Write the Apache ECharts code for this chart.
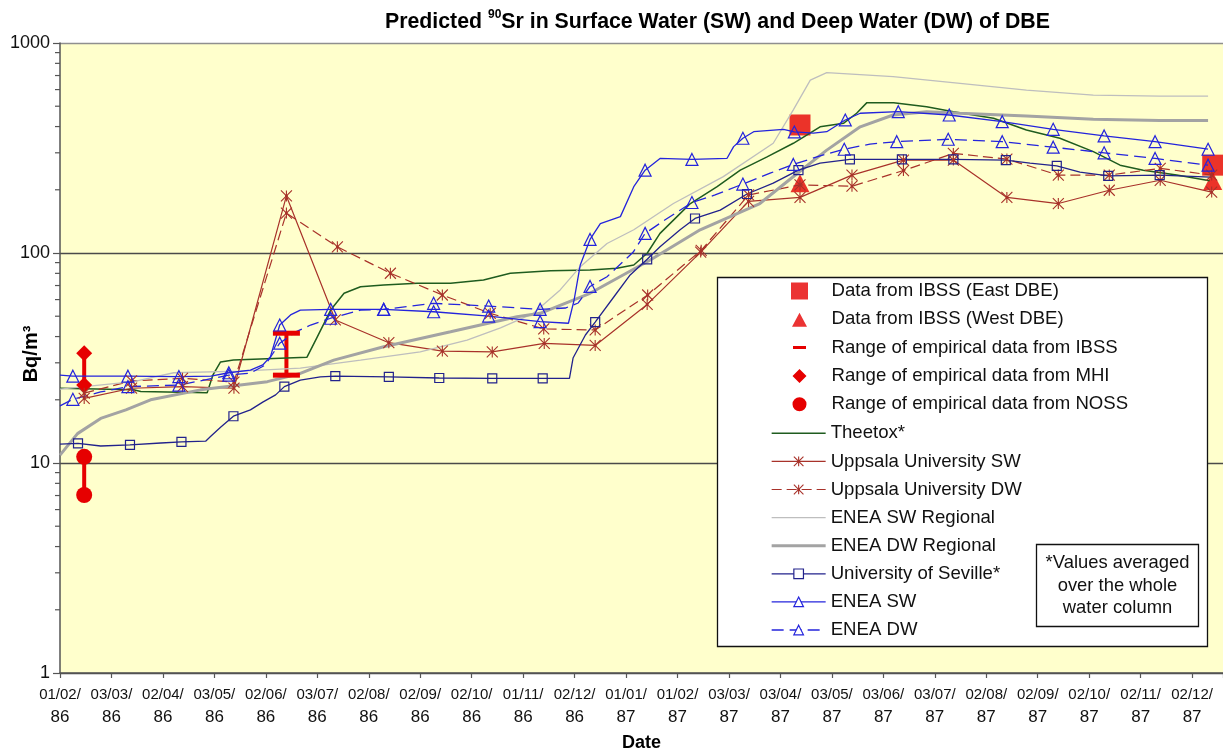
<!DOCTYPE html>
<html><head><meta charset="utf-8">
<script src="https://cdn.jsdelivr.net/npm/echarts/dist/echarts.min.js"></script>
<style>html,body{margin:0;padding:0;background:#fff}#c{width:1223px;height:753px}</style>
</head><body><div id="c"></div>
<script>
// x = months since 01/02/86 (axis ticks every 1/12 year), y = Bq/m3
const xTickLabels = ['01/02/86','03/03/86','02/04/86','03/05/86','02/06/86','03/07/86','02/08/86','02/09/86','02/10/86','01/11/86','02/12/86','01/01/87','01/02/87','03/03/87','03/04/87','03/05/87','03/06/87','03/07/87','02/08/87','02/09/87','02/10/87','02/11/87','02/12/87'];
const yTickLabels = {1:'1',10:'10',100:'100',1000:'1000'};
const yMinorTicks = [2,3,4,5,6,7,8,9,20,30,40,50,60,70,80,90,200,300,400,500,600,700,800,900];

const ibssEast = [[14.38,407],[22.4,262]];
const ibssWest = [[14.38,215],[22.4,220]];
const ibssRange = [[4.40,41.5],[4.40,26.2]];
const mhiRange = [[0.47,33.3],[0.47,23.5]];
const nossRange = [[0.47,10.7],[0.47,7.04]];

const theetox = [[0,22.7],[1.43,22.3],[1.57,21.9],[2.86,21.6],[2.97,26.2],[3.12,30.3],[3.37,30.9],[4.80,31.9],[5.00,39.9],[5.26,53.5],[5.52,64.3],[5.84,69.1],[6.29,70.4],[6.94,71.7],[7.59,71.7],[8.23,74.3],[8.75,80.1],[9.53,82.4],[10.30,83.0],[10.82,84.6],[11.15,87.7],[11.41,99.7],[11.66,124],[11.99,149],[12.25,172],[12.77,207],[13.22,248],[13.74,287],[14.25,333],[14.77,399],[15.23,415],[15.48,463],[15.68,520],[16.20,520],[16.84,497],[17.36,471],[18.14,438],[18.78,385],[19.43,352],[20.08,304],[20.60,262],[21.05,248],[21.70,235],[22.34,221]];

const uppsalaSW = [[0.47,20.3],[1.39,22.7],[2.38,23.1],[3.38,22.7],[4.40,187],[5.35,48.0],[6.39,37.4],[7.43,34.1],[8.40,33.8],[9.41,37.1],[10.40,36.3],[11.41,56.9],[12.45,101],[13.38,176],[14.38,184],[15.39,235],[16.39,277],[17.36,277],[18.40,184],[19.40,172],[20.39,199],[21.38,222],[22.38,195]];
const uppsalaDW = [[0.47,21.5],[1.39,24.6],[2.38,25.3],[3.38,24.3],[4.40,155],[5.39,107],[6.42,80.1],[7.43,63.1],[8.36,51.6],[9.40,43.5],[10.40,43.0],[11.42,63.1],[12.46,103],[13.38,189],[14.38,211],[15.39,208],[16.39,247],[17.36,298],[18.40,280],[19.40,235],[20.39,235],[21.38,253],[22.38,235]];

const eneaSWReg = [[0,22.5],[1.43,24.4],[2.21,26.9],[3.51,27.4],[4.67,28.3],[5.84,30.9],[7.00,33.8],[7.91,38.5],[8.56,44.0],[9.20,51.6],[9.72,66.7],[10.11,86.1],[10.63,111],[11.15,129],[11.92,172],[12.89,231],[13.86,333],[14.25,480],[14.58,666],[14.90,722],[16.19,691],[17.49,643],[18.78,597],[20.08,565],[21.37,559],[22.31,559]];
const eneaDWReg = [[0,10.9],[0.34,13.8],[0.79,16.3],[1.28,17.9],[1.76,20.0],[2.73,22.3],[4.03,24.4],[4.67,26.7],[5.32,30.9],[6.29,35.8],[7.59,42.2],[8.88,49.7],[9.33,51.6],[10.30,64.3],[11.47,92.6],[12.44,129],[13.60,172],[14.38,245],[14.90,309],[15.55,399],[16.19,454],[16.84,471],[17.49,463],[18.78,449],[20.08,433],[21.37,427],[22.31,427]];

// third value: 1 = marker drawn at this point
const seville = [[0,12.3,0],[0.35,12.4,1],[0.79,12.05,0],[1.36,12.2,1],[1.96,12.45,0],[2.36,12.6,1],[2.83,12.7,0],[2.93,13.4,0],[3.12,14.8,0],[3.37,16.7,1],[3.70,17.9,0],[3.94,19.5,0],[4.19,21.1,0],[4.36,23.1,1],[4.67,24.8,0],[5.06,25.7,0],[5.35,25.9,1],[6.39,25.7,1],[7.37,25.4,1],[8.40,25.3,1],[9.38,25.3,1],[9.90,25.3,0],[9.97,31.6,0],[10.21,40.7,0],[10.40,46.9,1],[10.79,63.1,0],[11.08,78.6,0],[11.41,93.3,1],[11.66,107,0],[12.05,129,0],[12.34,146,1],[12.83,160,0],[13.35,191,1],[13.86,215,0],[14.35,248,1],[14.77,268,0],[15.35,279,1],[16.36,279,1],[17.36,279,1],[18.38,277,1],[18.85,268,0],[19.37,260,1],[19.82,243,0],[20.37,233,1],[21.37,235,1],[22.36,230,0]];
const eneaSW = [[0,26.2,0],[0.25,25.9,1],[1.32,25.9,1],[2.31,25.8,1],[2.93,25.9,0],[3.28,26.9,1],[3.70,27.7,0],[3.94,29.3,0],[4.09,32.1,0],[4.27,45.4,1],[4.48,50.7,0],[4.67,53.5,0],[5.26,53.9,1],[6.29,53.9,1],[7.26,52.5,1],[8.33,50.1,1],[9.33,47.1,1],[9.88,46.3,0],[9.99,59.7,0],[10.11,87.7,0],[10.30,116,1],[10.50,138,0],[10.89,149,0],[11.15,207,0],[11.37,248,1],[11.66,282,0],[12.28,279,1],[12.96,282,0],[13.09,321,0],[13.27,352,1],[13.48,378,0],[14.06,388,0],[14.27,377,1],[14.64,372,0],[14.90,378,0],[15.16,415,0],[15.26,430,1],[15.55,463,0],[16.29,471,1],[17.28,454,1],[18.31,422,1],[19.30,388,1],[20.29,361,1],[21.28,339,1],[22.31,312,1]];
const eneaDW = [[0,18.7,0],[0.25,20.1,1],[0.79,21.8,0],[1.32,23.1,1],[2.31,23.5,1],[3.28,26.2,1],[3.70,26.8,0],[3.99,29.3,0],[4.27,37.2,1],[4.58,42.1,0],[4.87,45.4,0],[5.26,48.9,1],[5.84,53.5,0],[6.29,53.9,1],[7.26,57.6,1],[8.33,55.9,1],[9.33,53.9,1],[9.82,54.7,0],[10.07,57.8,0],[10.30,69.3,1],[10.63,77.1,0],[11.14,101,0],[11.37,124,1],[11.76,144,0],[12.28,174,1],[12.73,189,0],[13.27,213,1],[13.80,240,0],[14.25,264,1],[14.77,290,0],[15.24,312,1],[15.74,330,0],[16.26,339,1],[17.26,348,1],[18.31,339,1],[19.30,319,1],[20.29,300,1],[21.28,282,1],[22.31,262,1]];

const FONT = '"Liberation Sans", Arial, Helvetica, sans-serif';
const RED = '#E60000', UPP = '#A8322A', UPPDOT = '#7A0A0A', GREEN = '#1F5C1F';
const GRAYL = '#BEBEBE', GRAYD = '#A3A3A3', NAVY = '#22228C', BLUE = '#2424DC';
const ASTER = 'path://M0,0L10,10M10,0L0,10M5,0L5,10M4.2,4.2h1.6v1.6h-1.6z';

function withMarkers(arr) {
  return arr.map(p => (p.length < 3 || p[2]) ? [p[0], p[1]] : {value: [p[0], p[1]], symbol: 'none'});
}
const NAMES = {
  east: 'Data from IBSS (East DBE)', west: 'Data from IBSS (West DBE)',
  ibss: 'Range of empirical data from IBSS', mhi: 'Range of empirical data from MHI',
  noss: 'Range of empirical data from NOSS', theetox: 'Theetox*',
  usw: 'Uppsala University SW', udw: 'Uppsala University DW',
  rsw: 'ENEA SW Regional', rdw: 'ENEA DW Regional', sev: 'University of Seville*',
  esw: 'ENEA SW', edw: 'ENEA DW'
};
const FR = 'M0,0L0,17M17,0L17,17';
const chart = echarts.init(document.getElementById('c'), null, {renderer: 'canvas'});
const lineBase = {type: 'line', animation: false, silent: true, emphasis: {disabled: true}};
const LEGEND_TEXT = {fontFamily: FONT, fontSize: 18.6, lineHeight: 20, color: '#111'};

chart.setOption({
  animation: false,
  backgroundColor: '#ffffff',
  title: {
    text: '{t|Predicted }{s|90}{t|Sr in Surface Water (SW) and Deep Water (DW) of DBE}',
    left: 380, top: 4,
    textStyle: {rich: {
      t: {fontFamily: FONT, fontSize: 21.3, fontWeight: 'bold', color: '#000', lineHeight: 26},
      s: {fontFamily: FONT, fontSize: 12, fontWeight: 'bold', color: '#000', lineHeight: 15, verticalAlign: 'top'}
    }}
  },
  grid: {left: 60, right: 0, top: 43, bottom: 80, show: true, backgroundColor: '#FFFFCC', borderWidth: 0, containLabel: false, outerBoundsMode: 'none'},
  xAxis: {
    type: 'value', min: 0, max: 22.6, interval: 1,
    name: 'Date', nameLocation: 'middle', nameGap: 61, nameMoveOverlap: false,
    nameTextStyle: {fontFamily: FONT, fontSize: 18, fontWeight: 'bold', color: '#000'},
    axisLine: {show: true, onZero: false, lineStyle: {color: '#555', width: 1.5}},
    axisTick: {show: true, length: 5, inside: false, lineStyle: {color: '#555', width: 1.2}},
    splitLine: {show: false},
    axisLabel: {
      margin: 11, color: '#111', showMinLabel: true, showMaxLabel: true, hideOverlap: false,
      formatter: function (v) {
        if (Math.abs(v - Math.round(v)) > 1e-6) return '';
        const s = xTickLabels[Math.round(v)];
        if (!s) return '';
        const i = s.lastIndexOf('/');
        return '{a|' + s.slice(0, i + 1) + '}\n{b|' + s.slice(i + 1) + '}';
      },
      rich: {a: {fontFamily: FONT, fontSize: 15, lineHeight: 21, color: '#111'}, b: {fontFamily: FONT, fontSize: 17, lineHeight: 24, color: '#111'}}
    }
  },
  yAxis: {
    type: 'log', logBase: 10, min: 1, max: 1000,
    name: 'Bq/m³', nameLocation: 'middle', nameGap: 19, nameRotate: 90, nameMoveOverlap: false,
    nameTextStyle: {fontFamily: FONT, fontSize: 20, fontWeight: 'bold', color: '#000', padding: [0, 0, 0, 8]},
    axisLine: {show: true, lineStyle: {color: '#555', width: 1.5}},
    axisTick: {show: true, length: 7, lineStyle: {color: '#555', width: 1.2}},
    minorTick: {show: false},
    splitLine: {show: true, lineStyle: {color: ['#4a4a4a', '#4a4a4a', '#4a4a4a', '#8f8f8f'], width: 1.3}},
    axisLabel: {margin: 10, color: '#111', fontFamily: FONT, fontSize: 18,
      formatter: v => yTickLabels[Math.round(v)] || ''}
  },
  legend: [
    {
      orient: 'vertical', left: 791, top: 281, padding: 0, itemWidth: 54, itemHeight: 17, itemGap: 8.3,
      selectedMode: false, z: 6,
      itemStyle: {borderWidth: 0},
      textStyle: LEGEND_TEXT,
      data: [
        {name: NAMES.east, icon: 'path://M0,0h17v17h-17z'},
        {name: NAMES.west, icon: 'path://' + FR + 'M8.5,2L16,16L1,16z'},
        {name: NAMES.ibss, icon: 'path://' + FR + 'M2,7h13v3h-13z'},
        {name: NAMES.mhi, icon: 'path://' + FR + 'M8.5,1.5L15.5,8.5L8.5,15.5L1.5,8.5z'},
        {name: NAMES.noss, icon: 'path://' + FR + 'M15.5,8.5A7,7,0,1,1,1.5,8.5A7,7,0,1,1,15.5,8.5z'}
      ]
    },
    {
      orient: 'vertical', left: 771, top: 423.3, padding: 0, itemWidth: 54, itemHeight: 12, itemGap: 8.1,
      selectedMode: false, z: 6,
      itemStyle: {borderWidth: 0},
      lineStyle: {width: 'inherit'},
      textStyle: LEGEND_TEXT,
      data: [
        {name: NAMES.theetox, icon: 'path://M0,0h54v1.5h-54z'},
        {name: NAMES.usw, itemStyle: {color: UPPDOT, borderColor: UPP, borderWidth: 1.1}},
        {name: NAMES.udw, itemStyle: {color: UPPDOT, borderColor: UPP, borderWidth: 1.1}},
        {name: NAMES.rsw, icon: 'path://M0,0h54v1.3h-54z'},
        {name: NAMES.rdw, icon: 'path://M0,0h54v3h-54z'},
        {name: NAMES.sev, itemStyle: {color: '#fff', borderColor: NAVY, borderWidth: 1.2}},
        {name: NAMES.esw, itemStyle: {color: '#fff', borderColor: BLUE, borderWidth: 1.2}},
        {name: NAMES.edw, itemStyle: {color: '#fff', borderColor: BLUE, borderWidth: 1.2}}
      ]
    }
  ],
  graphic: [
    {type: 'rect', z: 3, silent: true, shape: {x: 717.5, y: 277.5, width: 490, height: 369}, style: {fill: '#ffffff', stroke: '#111', lineWidth: 1.3}},
    {type: 'rect', z: 7, silent: true, shape: {x: 1036.5, y: 544.5, width: 162, height: 82}, style: {fill: '#ffffff', stroke: '#111', lineWidth: 1.3}},
    {type: 'text', z: 8, silent: true, x: 1117.5, y: 585.5, style: {text: '*Values averaged\nover the whole\nwater column', x: 0, y: 0, textAlign: 'center', textVerticalAlign: 'middle', align: 'center', verticalAlign: 'middle', font: '18.4px ' + FONT, fontSize: 18.4, fontFamily: FONT, lineHeight: 22.5, fill: '#111'}}
  ],
  series: [
    {type: 'scatter', name: NAMES.east, data: ibssEast, symbol: 'rect', symbolSize: 21, itemStyle: {color: RED}, silent: true, z: 2},
    {type: 'scatter', name: NAMES.west, data: ibssWest, symbol: 'triangle', symbolSize: [19, 18], itemStyle: {color: RED}, silent: true, z: 2},
    Object.assign({}, lineBase, {name: NAMES.ibss, data: ibssRange, symbol: 'rect', symbolSize: [27, 5], lineStyle: {color: RED, width: 4}, itemStyle: {color: RED}}),
    Object.assign({}, lineBase, {name: NAMES.mhi, data: mhiRange, symbol: 'diamond', symbolSize: 16, lineStyle: {color: RED, width: 4}, itemStyle: {color: RED}}),
    Object.assign({}, lineBase, {name: NAMES.noss, data: nossRange, symbol: 'circle', symbolSize: 16, lineStyle: {color: RED, width: 4}, itemStyle: {color: RED}}),
    Object.assign({}, lineBase, {name: NAMES.theetox, data: theetox, symbol: 'none', lineStyle: {color: GREEN, width: 1.5}, itemStyle: {color: GREEN}}),
    Object.assign({}, lineBase, {name: NAMES.usw, data: withMarkers(uppsalaSW), symbol: ASTER, symbolSize: 11, lineStyle: {color: UPP, width: 1.2}, itemStyle: {color: UPPDOT, borderColor: UPP, borderWidth: 1.1}}),
    Object.assign({}, lineBase, {name: NAMES.udw, data: withMarkers(uppsalaDW), symbol: ASTER, symbolSize: 11, lineStyle: {color: UPP, width: 1.2, type: [10, 5]}, itemStyle: {color: UPPDOT, borderColor: UPP, borderWidth: 1.1}}),
    Object.assign({}, lineBase, {name: NAMES.rsw, data: eneaSWReg, symbol: 'none', lineStyle: {color: GRAYL, width: 1.3}, itemStyle: {color: GRAYL}}),
    Object.assign({}, lineBase, {name: NAMES.rdw, data: eneaDWReg, symbol: 'none', lineStyle: {color: GRAYD, width: 3}, itemStyle: {color: GRAYD}}),
    Object.assign({}, lineBase, {name: NAMES.sev, data: withMarkers(seville), symbol: 'rect', symbolSize: 9, lineStyle: {color: NAVY, width: 1.3}, itemStyle: {color: 'rgba(0,0,0,0)', borderColor: NAVY, borderWidth: 1.2}}),
    Object.assign({}, lineBase, {name: NAMES.esw, data: withMarkers(eneaSW), symbol: 'triangle', symbolSize: 12, lineStyle: {color: BLUE, width: 1.3}, itemStyle: {color: 'rgba(0,0,0,0)', borderColor: BLUE, borderWidth: 1.2}}),
    Object.assign({}, lineBase, {name: NAMES.edw, data: withMarkers(eneaDW), symbol: 'triangle', symbolSize: 12, lineStyle: {color: BLUE, width: 1.3, type: [12, 6]}, itemStyle: {color: 'rgba(0,0,0,0)', borderColor: BLUE, borderWidth: 1.2}}),
    {
      type: 'custom', name: 'minorTicks', coordinateSystem: 'cartesian2d', clip: false, silent: true, z: 3,
      data: yMinorTicks.map(v => [0, v]),
      renderItem: function (params, api) {
        const p = api.coord([api.value(0), api.value(1)]);
        return {type: 'line', shape: {x1: p[0] - 5, y1: p[1], x2: p[0], y2: p[1]}, style: {stroke: '#555', lineWidth: 1.2}};
      }
    }
  ]
});
</script></body></html>
